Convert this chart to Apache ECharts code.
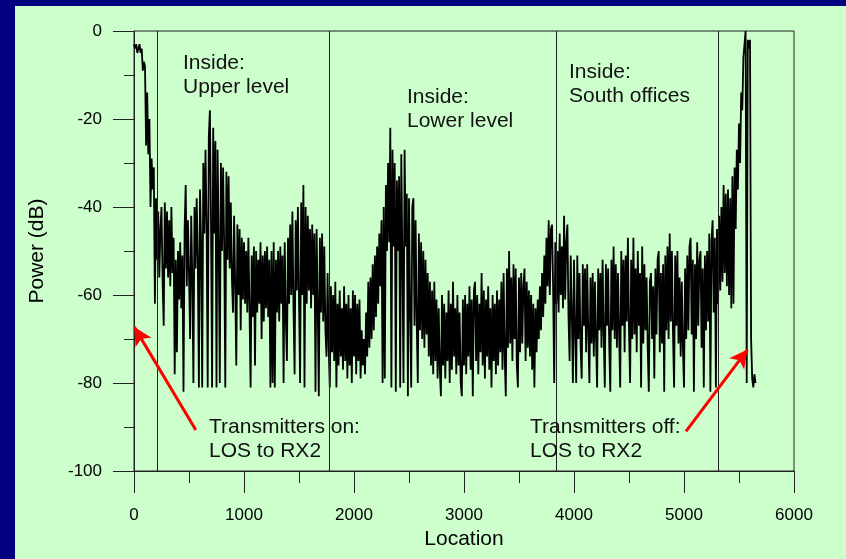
<!DOCTYPE html>
<html><head><meta charset="utf-8">
<script src="https://cdn.jsdelivr.net/npm/echarts@6/dist/echarts.min.js"></script>
<style>html,body{margin:0;padding:0;background:#000080;}#c{width:846px;height:559px;}</style>
</head><body><div id="c"></div>
<script>
// ---- data ----
const step = 10; // sampling interval along "Location"
const power0000 = [
 -3,-4,-3,-5,-4,-3,-5,-4,-9,-7,
 -8,-26,-14,-28,-20,-40,-29,-36,-31,-62,
 -38,-52,-41,-56,-45,-40,-57,-67,-39,-54,
 -41,-56,-43,-58,-40,-55,-47,-78,-52,-73,
 -50,-61,-48,-63,-51,-82,-45,-35,-58,-43,
 -55,-70,-42,-56,-80,-40,-54,-38,-52,-81,
 -36,-48,-81,-30,-46,-27,-44,-81,-24,-18,
 -44,-81,-22,-46,-25,-81,-27,-48,-80,-30,
 -50,-31,-49,-81,-32,-52,-33,-54,-39,-56,
 -64,-42,-58,-76,-44,-60,-45,-68,-47,-61
];
const power1000 = [
 -48,-62,-50,-64,-47,-63,-81,-51,-65,-49,
 -76,-50,-64,-52,-62,-48,-70,-51,-66,-50,
 -63,-49,-65,-52,-81,-50,-80,-48,-81,-52,
 -64,-50,-66,-49,-62,-51,-80,-48,-65,-75,
 -47,-62,-44,-60,-41,-63,-78,-43,-59,-40,
 -61,-80,-39,-60,-35,-81,-40,-62,-42,-59,
 -45,-63,-44,-60,-46,-82,-45,-62,-83,-47,
 -64,-46,-66,-49,-68,-74,-55,-72,-81,-58,
 -73,-60,-75,-57,-81,-62,-76,-59,-74,-63,
 -77,-58,-75,-62,-79,-60,-76,-63,-80,-59
];
const power2000 = [
 -74,-60,-78,-62,-75,-61,-79,-68,-76,-70,
 -78,-64,-74,-57,-72,-56,-70,-53,-68,-51,
 -65,-49,-62,-46,-58,-43,-80,-40,-79,-35,
 -50,-30,-48,-22,-81,-27,-49,-30,-82,-34,
 -50,-33,-81,-28,-52,-80,-27,-49,-37,-83,
 -38,-64,-81,-40,-38,-67,-43,-66,-80,-46,
 -68,-48,-70,-50,-72,-52,-69,-55,-74,-57,
 -76,-59,-78,-57,-75,-61,-79,-63,-77,-83,
 -60,-76,-62,-79,-64,-75,-59,-80,-62,-77,
 -57,-74,-63,-78,-60,-76,-64,-80,-83,-61
];
const power3000 = [
 -76,-60,-78,-62,-74,-58,-77,-61,-83,-59,
 -57,-75,-60,-78,-62,-73,-55,-76,-59,-79,
 -61,-74,-58,-77,-63,-81,-60,-75,-62,-78,
 -59,-76,-61,-73,-57,-77,-55,-74,-83,-54,
 -72,-50,-71,-56,-75,-53,-70,-54,-76,-81,
 -56,-73,-55,-71,-58,-54,-75,-57,-72,-59,
 -74,-60,-77,-62,-81,-63,-73,-61,-70,-58,
 -68,-55,-65,-51,-62,-47,-58,-43,-60,-45,
 -44,-58,-80,-48,-62,-50,-64,-46,-60,-49,
 -63,-42,-61,-48,-44,-65,-75,-51,-64,-80
];
const power4000 = [
 -52,-68,-80,-51,-70,-55,-72,-79,-53,-67,
 -54,-73,-53,-69,-80,-56,-71,-55,-74,-57,
 -70,-81,-54,-68,-55,-72,-52,-69,-81,-53,
 -67,-54,-71,-82,-52,-68,-49,-70,-53,-72,
 -55,-69,-81,-50,-67,-52,-73,-51,-66,-47,
 -68,-80,-52,-70,-47,-69,-54,-73,-50,-67,
 -55,-81,-49,-71,-53,-68,-56,-72,-82,-57,
 -55,-70,-58,-79,-54,-69,-52,-50,-73,-55,
 -71,-53,-82,-51,-68,-49,-70,-46,-66,-50,
 -69,-81,-51,-67,-50,-71,-56,-74,-57,-72
];
const power5000 = [
 -81,-54,-70,-51,-68,-49,-47,-69,-52,-82,
 -53,-70,-48,-67,-52,-50,-72,-54,-81,-51,
 -68,-50,-66,-46,-82,-48,-43,-64,-47,-81,
 -45,-62,-42,-59,-40,-57,-35,-55,-37,-58,
 -36,-60,-38,-63,-33,-62,-31,-45,-27,-36,
 -21,-30,-14,-18,-6,-3,0,-80,-2,-4,
 -2,-70,-79,-81,-78,-80
];
const dividers = [210, 1775, 3840, 5310];
const regionLabels = ["Inside:\nUpper level", "Inside:\nLower level", "Inside:\nSouth offices"];
const eventLabels = ["Transmitters on:\nLOS to RX2", "Transmitters off:\nLOS to RX2"];
const arrowTail = [[562, -90.7], [5018, -91]];
const arrowHead = [[3, -67.3], [5577, -72.4]];

// ---- build ----
const power = [].concat(power0000, power1000, power2000, power3000, power4000, power5000);
const seriesData = power.map((v, i) => [i * step, v]);

const FONT = "'Liberation Sans', Arial, sans-serif";
const chart = echarts.init(document.getElementById('c'), null, {renderer: 'canvas'});

const textPos = [[183, 51.5], [407, 85.5], [569, 60.5]];
const eventPos = [[209, 415.5], [530, 415.5]];

const graphics = [
  {type: 'rect', z: -100, shape: {x: 15, y: 6, width: 846, height: 560}, style: {fill: '#CCFFCC'}}
];
regionLabels.forEach((t, i) => graphics.push({type: 'text', z: 50, x: textPos[i][0], y: textPos[i][1],
  style: {text: t, font: '21px ' + FONT, fill: '#111', lineHeight: 24, verticalAlign: 'top'}}));
eventLabels.forEach((t, i) => graphics.push({type: 'text', z: 50, x: eventPos[i][0], y: eventPos[i][1],
  style: {text: t, font: '21px ' + FONT, fill: '#111', lineHeight: 24, verticalAlign: 'top'}}));

const plain = v => String(v);

const option = {
  backgroundColor: '#000080',
  animation: false,
  graphic: graphics,
  grid: {left: 134, top: 31, right: 52, bottom: 88, show: true, borderColor: '#222', borderWidth: 1, backgroundColor: 'transparent'},
  xAxis: {
    type: 'value', min: 0, max: 6000, interval: 1000,
    name: 'Location', nameLocation: 'middle', nameGap: 54,
    nameTextStyle: {fontFamily: FONT, fontSize: 21, color: '#000'},
    axisLine: {show: true, onZero: false, lineStyle: {color: '#222', width: 1}},
    axisTick: {show: true, inside: false, length: 22, lineStyle: {color: '#222'}},
    minorTick: {show: true, splitNumber: 2, length: 12, lineStyle: {color: '#222'}},
    axisLabel: {fontFamily: FONT, fontSize: 17, color: '#000', margin: 36, formatter: plain},
    splitLine: {show: false}
  },
  yAxis: {
    type: 'value', min: -100, max: 0, interval: 20,
    name: 'Power (dB)', nameLocation: 'middle', nameGap: 86,
    nameTextStyle: {fontFamily: FONT, fontSize: 21, color: '#000'},
    axisLine: {show: true, onZero: false, lineStyle: {color: '#222', width: 1}},
    axisTick: {show: true, inside: false, length: 21, lineStyle: {color: '#222'}},
    minorTick: {show: true, splitNumber: 2, length: 10, lineStyle: {color: '#222'}},
    axisLabel: {fontFamily: FONT, fontSize: 17, color: '#000', margin: 32, formatter: plain},
    splitLine: {show: false}
  },
  series: [
    {
      type: 'line', data: seriesData, showSymbol: false, symbol: 'none',
      lineStyle: {color: '#000', width: 1.8}, z: 3,
      markLine: {
        silent: true, symbol: ['none', 'none'], animation: false,
        label: {show: false},
        lineStyle: {color: '#222', width: 1, type: 'solid'},
        data: dividers.map(x => ({xAxis: x}))
      }
    },
    {
      type: 'line', data: [], z: 10,
      markLine: {
        silent: true, animation: false, symbol: ['none', 'arrow'], symbolSize: [14, 18],
        label: {show: false},
        lineStyle: {color: '#FF0000', width: 3, type: 'solid'},
        data: arrowTail.map((p, i) => [{coord: p}, {coord: arrowHead[i]}])
      }
    }
  ]
};
chart.setOption(option);
</script></body></html>
